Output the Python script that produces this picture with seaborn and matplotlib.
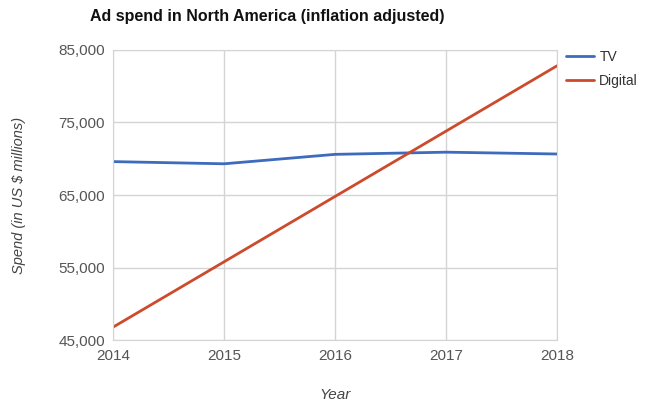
import matplotlib
matplotlib.use('Agg')
import matplotlib.pyplot as plt
import matplotlib.ticker as mticker
import seaborn as sns
import pandas as pd

years = [2014, 2015, 2016, 2017, 2018]
tv = [69600, 69300, 70600, 70900, 70650]
digital = [46800, 55800, 64800, 73800, 82800]

df = pd.DataFrame({'Year': years, 'TV': tv, 'Digital': digital})
long_df = df.melt(id_vars='Year', var_name='Medium', value_name='Spend')

sns.set_style('white')
plt.rcParams['font.family'] = ['Liberation Sans', 'DejaVu Sans']

fig = plt.figure(figsize=(6.5, 4.05), dpi=100)
ax = fig.add_axes([0.174, 0.16, 0.683, 0.717])

sns.lineplot(data=long_df, x='Year', y='Spend', hue='Medium',
             palette={'TV': '#3d6bbd', 'Digital': '#cc4b2c'},
             linewidth=2, ax=ax)

ax.set_xlim(2014, 2018)
ax.set_ylim(45000, 85000)
ax.set_xticks(years)
ax.set_yticks([45000, 55000, 65000, 75000, 85000])
ax.yaxis.set_major_formatter(mticker.FuncFormatter(lambda v, p: '{:,.0f}'.format(v)))
ax.grid(True, color='#d4d4d4', linewidth=1)
ax.set_axisbelow(True)
for s in ax.spines.values():
    s.set_color('#d4d4d4')
ax.tick_params(axis='both', length=0, labelsize=11, colors='#555555', pad=6)

ax.set_xlabel('Year', fontsize=11, style='italic', color='#444444', labelpad=18)
ax.set_ylabel('Spend (in US $ millions)', fontsize=10.5, style='italic', color='#444444', labelpad=23)
fig.text(90 / 650, 1 - 17 / 405, 'Ad spend in North America (inflation adjusted)',
         fontsize=11.5, fontweight='bold', color='#111111', ha='left', va='center')

leg = ax.legend(loc='upper left', bbox_to_anchor=(1.02, 1.0), frameon=False,
                fontsize=10, handlelength=2.0, handletextpad=0.4, labelspacing=0.75,
                borderaxespad=0, borderpad=0)
for t in leg.get_texts():
    t.set_color('#333333')

plt.savefig('out.png', dpi=100)
